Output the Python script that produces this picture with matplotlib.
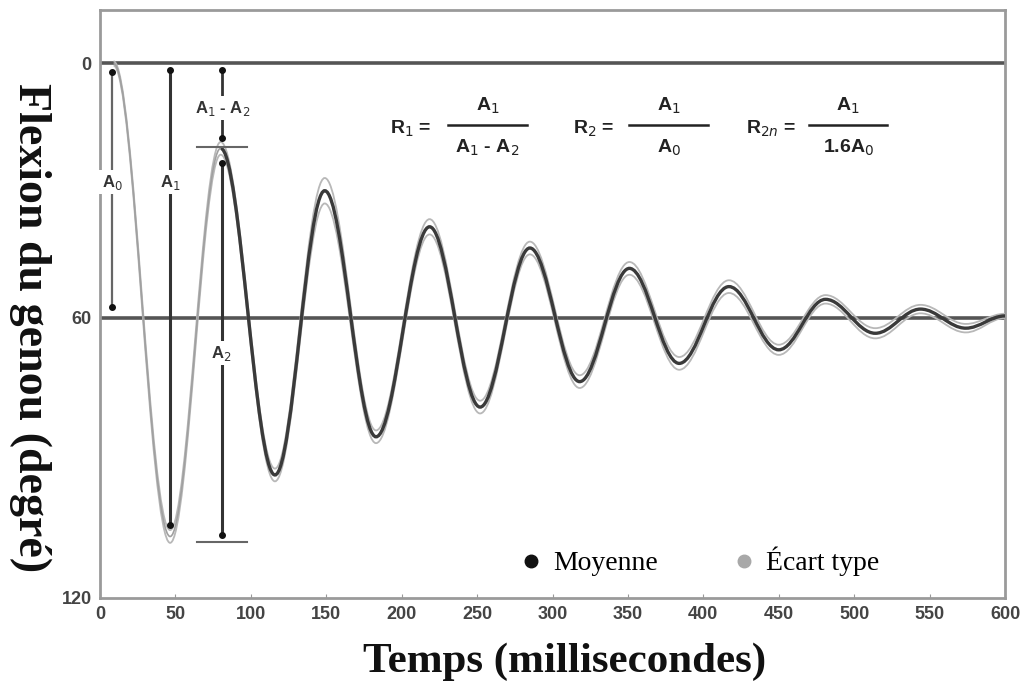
import numpy as np
import matplotlib
matplotlib.use("Agg")
import matplotlib.pyplot as plt
from matplotlib.path import Path
from matplotlib.patches import PathPatch
from matplotlib.lines import Line2D

# ---- data (extrema of the mean curve) ----
t_ext = [9, 46.5, 80, 116, 149, 183, 218.5, 252, 285, 318, 351, 384, 417, 450, 481, 514, 544, 574, 600]
y_mean = [0, 111.5, 20, 97, 30, 88, 38.5, 81, 43.5, 75, 48.3, 70.7, 52.6, 67.5, 55.6, 63.6, 57.9, 62.4, 59.5]
y_sd = [0.5, 1.5, 1.5, 1.5, 3.0, 1.5, 1.8, 1.5, 1.5, 1.5, 1.5, 1.5, 1.5, 1.2, 1.0, 1.2, 1.0, 1.0, 0.5]

x_ticks = [0, 50, 100, 150, 200, 250, 300, 350, 400, 450, 500, 550, 600]
y_tick_labels = ["0", "60", "120"]
ref_levels = [0, 60]

fig = plt.figure(figsize=(10.31, 6.94), dpi=100)
ax = fig.add_axes([100/1031, 1-598/694, 905/1031, 588/694])

Y_BOTTOM, Y_TOP = 126.0, -12.6
ax.set_xlim(0, 600)
ax.set_ylim(Y_BOTTOM, Y_TOP)


def smooth_path(ts, ys, k=0.364):
    verts = [(ts[0], ys[0])]
    codes = [Path.MOVETO]
    for i in range(len(ts) - 1):
        t0, t1 = ts[i], ts[i + 1]
        dt = t1 - t0
        verts += [(t0 + k * dt, ys[i]), (t1 - k * dt, ys[i + 1]), (t1, ys[i + 1])]
        codes += [Path.CURVE4] * 3
    return Path(verts, codes)


upper = [m - s for m, s in zip(y_mean, y_sd)]
lower = [m + s for m, s in zip(y_mean, y_sd)]

for band in (upper, lower):
    ax.add_patch(PathPatch(smooth_path(t_ext, band), fill=False,
                           edgecolor="#b8b8b8", lw=1.3, zorder=3))
# first cycle of the mean appears faint in the reference
ax.add_patch(PathPatch(smooth_path(t_ext[:3], y_mean[:3]), fill=False,
                       edgecolor="#a0a0a0", lw=1.2, zorder=4))
ax.add_patch(PathPatch(smooth_path(t_ext[2:], y_mean[2:]), fill=False,
                       edgecolor="#3a3a3a", lw=2.4, zorder=4))

for lv in ref_levels:
    ax.axhline(lv, color="#555555", lw=2.6, zorder=2)

# ---- annotation arrows ----
def vline(x, y0, y1, color="#333333", lw=2.0, ls="-"):
    ax.plot([x, x], [y0, y1], color=color, lw=lw, ls=ls, zorder=5)
    ax.plot([x, x], [y0, y1], ls="none", marker="o", ms=4, color="#111111", zorder=6)

lab_kw = dict(ha="center", va="center", fontsize=12, fontweight="bold",
              family="Liberation Sans", color="#333333", zorder=7,
              bbox=dict(boxstyle="square,pad=0.15", fc="white", ec="none"))

# A0
vline(8, 2.0, 57.5, color="#666666", lw=1.6)
ax.text(8, 28, "A$_0$", **lab_kw)
# A1
vline(46.4, 1.5, 108.8, lw=2.2)
ax.text(46.4, 28, "A$_1$", **lab_kw)
# A1 - A2
vline(81, 1.5, 17.6, lw=2.0)
ax.text(81, 10.6, "A$_1$ - A$_2$", **lab_kw)
# A2
vline(80.6, 23.5, 111.1, lw=2.2)
ax.text(80.6, 68.3, "A$_2$", **lab_kw)
# short horizontal markers
ax.plot([64, 97.2], [19.6, 19.6], color="#666666", lw=1.5, zorder=5)
ax.plot([64, 97.2], [112.7, 112.7], color="#666666", lw=1.5, zorder=5)

# ---- formulas ----
fkw = dict(ha="center", va="center", fontsize=14, fontweight="bold",
           family="Liberation Sans", color="#222222")
ax.text(206, 15.4, "R$_1$ =", **fkw)
ax.plot([231, 283], [14.6, 14.6], color="#222222", lw=1.8)
ax.text(257, 10.0, "A$_1$", **fkw)
ax.text(257, 19.8, "A$_1$ - A$_2$", **fkw)

ax.text(327, 15.4, "R$_2$ =", **fkw)
ax.plot([351, 403], [14.6, 14.6], color="#222222", lw=1.8)
ax.text(377, 10.0, "A$_1$", **fkw)
ax.text(377, 19.8, "A$_0$", **fkw)

ax.text(445, 15.4, "R$_{2n}$ =", **fkw)
ax.plot([470, 522], [14.6, 14.6], color="#222222", lw=1.8)
ax.text(496, 10.0, "A$_1$", **fkw)
ax.text(496, 19.8, "1.6A$_0$", **fkw)

# ---- legend ----
handles = [Line2D([], [], ls="none", marker="o", ms=9, color="#111111"),
           Line2D([], [], ls="none", marker="o", ms=9, color="#a8a8a8")]
ax.legend(handles, ["Moyenne", "Écart type"], ncol=2, loc="center left",
          bbox_to_anchor=(0.433, 0.062), frameon=False, handletextpad=0.3,
          columnspacing=2.6, handlelength=1.0,
          prop=dict(family="Liberation Serif", size=20))

# ---- axes styling ----
ax.set_xticks(x_ticks)
ax.set_xticklabels([str(v) for v in x_ticks], fontsize=13, color="#444444",
                   family="Liberation Sans", fontweight="bold")
ax.set_yticks([0, 60, Y_BOTTOM])
ax.set_yticklabels(y_tick_labels, fontsize=13, color="#444444",
                   family="Liberation Sans", fontweight="bold")
ax.tick_params(axis="x", direction="in", length=3, color="#999999", pad=6)
ax.tick_params(axis="y", length=0, pad=6)
for sp in ax.spines.values():
    sp.set_color("#9a9a9a")
    sp.set_linewidth(2)

fig.text(30/1031, 1-328/694, "Flexion du genou (degré)", rotation=-90,
         ha="center", va="center", fontsize=33, fontweight="bold",
         family="Liberation Serif", color="#111111")
fig.text(565/1031, 1-662/694, "Temps (millisecondes)",
         ha="center", va="center", fontsize=31, fontweight="bold",
         family="Liberation Serif", color="#111111")

fig.savefig("out.png", dpi=100)
